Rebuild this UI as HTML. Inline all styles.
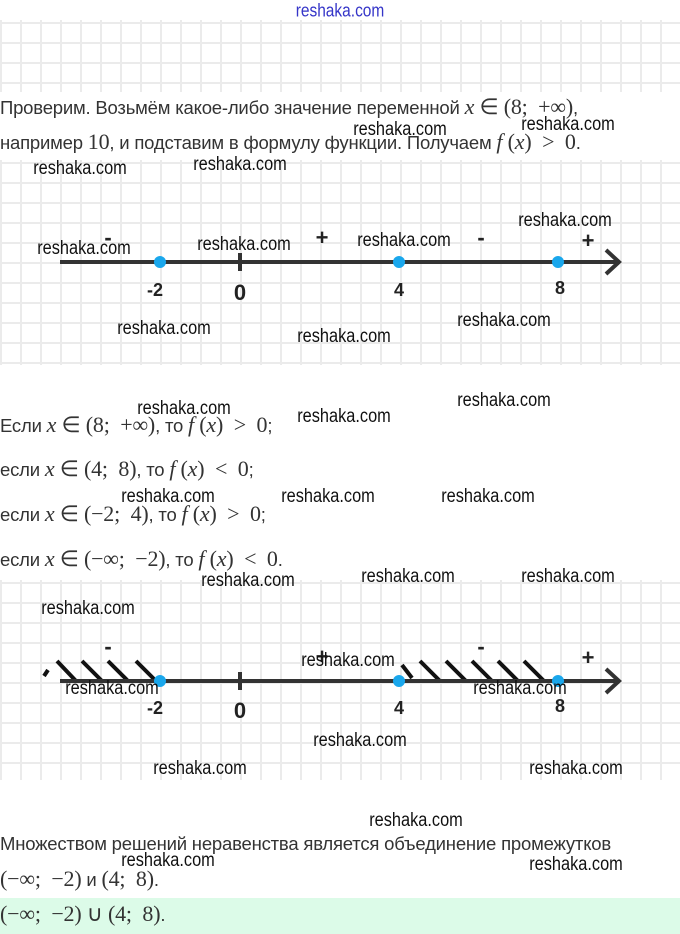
<!DOCTYPE html>
<html><head><meta charset="utf-8"><style>
body{margin:0;width:680px;height:934px;position:relative;background:#fff;overflow:hidden;font-family:"Liberation Sans",sans-serif}
.g{position:absolute;left:0;width:680px;background-image:linear-gradient(to right,#ebebeb 2px,transparent 2px),linear-gradient(to bottom,#ebebeb 2px,transparent 2px);background-size:20px 20px;background-position:0 2px}
.w{position:absolute;font-size:19px;color:#111;transform:translate(-50%,-50%) scaleX(.86);white-space:nowrap}
.t{position:absolute;left:0;font-size:18.5px;color:#333;white-space:nowrap;letter-spacing:-0.2px}
.m{font-family:"Liberation Serif",serif;font-size:22px}
.m i{font-style:italic}
</style></head><body>
<div class="g" style="top:20px;height:72px"></div>
<div class="g" style="top:160px;height:205px"></div>
<div class="g" style="top:580px;height:200px"></div>
<div style="position:absolute;left:0;top:898px;width:680px;height:36px;background:#dcfbe8"></div>

<div class="w" style="left:340px;top:11px;color:#3535c8;font-size:18px">reshaka.com</div>

<div class="t" style="top:94px">Проверим. Возьмём какое-либо значение переменной <span class="m"><i>x</i> ∈ (8;&nbsp; +∞)</span>,</div>
<div class="t" style="top:129px">например <span class="m">10</span>, и подставим в формулу функции. Получаем <span class="m"><i>f</i> (<i>x</i>) &nbsp;&gt;&nbsp; 0</span>.</div>

<div class="t" style="top:412px">Если <span class="m"><i>x</i> ∈ (8;&nbsp; +∞)</span>, то <span class="m"><i>f</i> (<i>x</i>) &nbsp;&gt;&nbsp; 0</span>;</div>
<div class="t" style="top:456px">если <span class="m"><i>x</i> ∈ (4;&nbsp; 8)</span>, то <span class="m"><i>f</i> (<i>x</i>) &nbsp;&lt;&nbsp; 0</span>;</div>
<div class="t" style="top:501px">если <span class="m"><i>x</i> ∈ (−2;&nbsp; 4)</span>, то <span class="m"><i>f</i> (<i>x</i>) &nbsp;&gt;&nbsp; 0</span>;</div>
<div class="t" style="top:546px">если <span class="m"><i>x</i> ∈ (−∞;&nbsp; −2)</span>, то <span class="m"><i>f</i> (<i>x</i>) &nbsp;&lt;&nbsp; 0</span>.</div>

<div class="t" style="top:833px">Множеством решений неравенства является объединение промежутков</div>
<div class="t" style="top:866px"><span class="m">(−∞;&nbsp; −2)</span> и <span class="m">(4;&nbsp; 8)</span>.</div>
<div class="t" style="top:901px"><span class="m">(−∞;&nbsp; −2) ∪ (4;&nbsp; 8)</span>.</div>

<svg width="680" height="934" style="position:absolute;left:0;top:0" font-family="Liberation Sans,sans-serif">
<g>
<line x1="60" y1="262" x2="618" y2="262" stroke="#333" stroke-width="4"/>
<polyline points="606,250 619,262 606,274" fill="none" stroke="#333" stroke-width="4"/>
<line x1="240" y1="253" x2="240" y2="271" stroke="#333" stroke-width="4"/>
<circle cx="160" cy="262" r="6" fill="#1aa7ec"/><circle cx="399" cy="262" r="6" fill="#1aa7ec"/><circle cx="558" cy="262" r="6" fill="#1aa7ec"/>
<g font-size="18" font-weight="bold" fill="#222" text-anchor="middle">
<text x="155" y="296">-2</text><text x="240" y="300" font-size="22">0</text><text x="399" y="296">4</text><text x="560" y="294">8</text>
<text x="108" y="245" font-size="22">-</text><text x="322" y="245" font-size="22">+</text><text x="481" y="245" font-size="22">-</text><text x="588" y="248" font-size="22">+</text>
</g>
</g>
<g>
<g stroke="#111" stroke-width="4">
<line x1="44" y1="676" x2="48" y2="670"/>
<line x1="57" y1="661" x2="76" y2="681"/><line x1="82" y1="661" x2="102" y2="681"/><line x1="108" y1="661" x2="128" y2="681"/><line x1="136" y1="661" x2="156" y2="681"/>
<line x1="402" y1="665" x2="412" y2="678"/><line x1="420" y1="661" x2="440" y2="681"/><line x1="446" y1="661" x2="466" y2="681"/><line x1="472" y1="661" x2="492" y2="681"/><line x1="498" y1="661" x2="518" y2="681"/><line x1="524" y1="661" x2="544" y2="681"/>
</g>
<line x1="60" y1="681" x2="618" y2="681" stroke="#333" stroke-width="4"/>
<polyline points="606,669 619,681 606,693" fill="none" stroke="#333" stroke-width="4"/>
<line x1="240" y1="672" x2="240" y2="690" stroke="#333" stroke-width="4"/>
<circle cx="160" cy="681" r="6" fill="#1aa7ec"/><circle cx="399" cy="681" r="6" fill="#1aa7ec"/><circle cx="558" cy="681" r="6" fill="#1aa7ec"/>
<g font-size="18" font-weight="bold" fill="#222" text-anchor="middle">
<text x="155" y="714">-2</text><text x="240" y="718" font-size="22">0</text><text x="399" y="714">4</text><text x="560" y="712">8</text>
<text x="108" y="654" font-size="22">-</text><text x="322" y="664" font-size="22">+</text><text x="481" y="654" font-size="22">-</text><text x="588" y="665" font-size="22">+</text>
</g>
</g>
</svg>

<div class="w" style="left:400px;top:130px">reshaka.com</div>
<div class="w" style="left:568px;top:125px">reshaka.com</div>
<div class="w" style="left:80px;top:169px">reshaka.com</div>
<div class="w" style="left:240px;top:165px">reshaka.com</div>
<div class="w" style="left:565px;top:221px">reshaka.com</div>
<div class="w" style="left:84px;top:249px">reshaka.com</div>
<div class="w" style="left:244px;top:245px">reshaka.com</div>
<div class="w" style="left:404px;top:241px">reshaka.com</div>
<div class="w" style="left:164px;top:329px">reshaka.com</div>
<div class="w" style="left:344px;top:337px">reshaka.com</div>
<div class="w" style="left:504px;top:321px">reshaka.com</div>
<div class="w" style="left:184px;top:409px">reshaka.com</div>
<div class="w" style="left:344px;top:417px">reshaka.com</div>
<div class="w" style="left:504px;top:401px">reshaka.com</div>
<div class="w" style="left:168px;top:497px">reshaka.com</div>
<div class="w" style="left:328px;top:497px">reshaka.com</div>
<div class="w" style="left:488px;top:497px">reshaka.com</div>
<div class="w" style="left:248px;top:581px">reshaka.com</div>
<div class="w" style="left:408px;top:577px">reshaka.com</div>
<div class="w" style="left:568px;top:577px">reshaka.com</div>
<div class="w" style="left:88px;top:609px">reshaka.com</div>
<div class="w" style="left:348px;top:661px">reshaka.com</div>
<div class="w" style="left:112px;top:689px">reshaka.com</div>
<div class="w" style="left:520px;top:689px">reshaka.com</div>
<div class="w" style="left:360px;top:741px">reshaka.com</div>
<div class="w" style="left:200px;top:769px">reshaka.com</div>
<div class="w" style="left:576px;top:769px">reshaka.com</div>
<div class="w" style="left:416px;top:821px">reshaka.com</div>
<div class="w" style="left:168px;top:861px">reshaka.com</div>
<div class="w" style="left:576px;top:865px">reshaka.com</div>
</body></html>
